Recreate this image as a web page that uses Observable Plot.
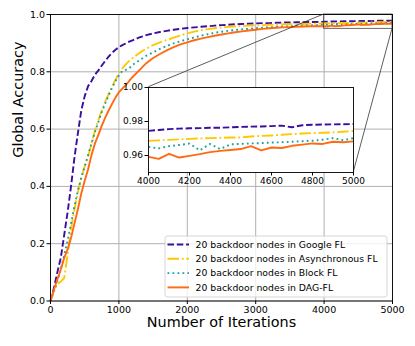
<!DOCTYPE html>
<html><head><meta charset="utf-8">
<script src="https://cdn.jsdelivr.net/npm/d3@7"></script>
<script src="https://cdn.jsdelivr.net/npm/@observablehq/plot@0.6"></script>
<style>
body{margin:0;background:#fff;}
#wrap{position:relative;width:415px;height:346px;font-family:"DejaVu Sans",sans-serif;overflow:hidden;}
#wrap svg{position:absolute;}
</style></head><body><div id="wrap"></div>
<script>
const iterations = [0,50,100,150,200,250,300,350,400,450,500,550,600,650,700,750,800,850,900,950,1000,1050,1100,1150,1200,
 1300,1400,1500,1600,1700,1800,1900,2000,2100,2200,2300,2400,2500,2600,2700,2800,2900,3000,3100,3200,3300,3400,3500,3600,3700,3800,3900,
 4000,4050,4100,4150,4200,4250,4300,4350,4400,4450,4500,4550,4600,4650,4700,4750,4800,4850,4900,4950,5000];
const googleFL = [0,0.045,0.10,0.15,0.23,0.31,0.40,0.50,0.585,0.665,0.715,0.75,0.768,0.79,0.805,0.822,0.838,0.853,0.866,0.877,0.886,0.893,0.899,0.905,0.910,
 0.920,0.928,0.934,0.939,0.943,0.947,0.950,0.953,0.955,0.957,0.959,0.961,0.963,0.964,0.966,0.967,0.968,0.969,0.970,0.970,0.971,0.972,0.972,0.973,0.973,0.974,0.974,
 0.9745,0.9750,0.9755,0.9758,0.9760,0.9761,0.9763,0.9763,0.9766,0.9768,0.9770,0.9771,0.9773,0.9776,0.9766,0.9778,0.9781,0.9782,0.9783,0.9784,0.9785];
const asyncFL = [0,0.035,0.058,0.068,0.08,0.16,0.25,0.32,0.38,0.43,0.47,0.505,0.55,0.595,0.632,0.665,0.695,0.722,0.748,0.772,0.795,0.812,0.826,0.838,0.848,
 0.866,0.881,0.893,0.903,0.911,0.919,0.927,0.934,0.940,0.945,0.949,0.952,0.955,0.957,0.959,0.960,0.961,0.962,0.963,0.964,0.965,0.966,0.966,0.967,0.967,0.968,0.968,
 0.9686,0.9689,0.9692,0.9695,0.9698,0.9700,0.9702,0.9704,0.9706,0.9706,0.9712,0.9715,0.9718,0.9722,0.9726,0.9729,0.9732,0.9734,0.9736,0.9740,0.9744];
const blockFL = [0,0.035,0.07,0.11,0.16,0.21,0.27,0.33,0.385,0.43,0.47,0.51,0.55,0.59,0.625,0.66,0.69,0.718,0.744,0.768,0.787,0.803,0.807,0.812,0.824,
 0.840,0.856,0.868,0.880,0.890,0.899,0.907,0.913,0.920,0.926,0.931,0.936,0.940,0.943,0.946,0.948,0.950,0.952,0.954,0.955,0.957,0.958,0.959,0.960,0.961,0.962,0.963,
 0.9651,0.9642,0.9655,0.9662,0.9670,0.9630,0.9668,0.9638,0.9666,0.9668,0.9671,0.9673,0.9676,0.9678,0.9681,0.9684,0.9687,0.9693,0.9702,0.9690,0.9702];
const dagFL = [0,0.04,0.075,0.11,0.15,0.18,0.22,0.27,0.32,0.375,0.42,0.46,0.51,0.55,0.58,0.612,0.64,0.665,0.688,0.71,0.729,0.741,0.753,0.768,0.782,
 0.806,0.830,0.848,0.862,0.875,0.886,0.896,0.903,0.910,0.916,0.921,0.926,0.930,0.934,0.938,0.941,0.944,0.947,0.950,0.952,0.954,0.955,0.956,0.957,0.958,0.959,0.9595,
 0.9592,0.9580,0.9610,0.9588,0.9598,0.9608,0.9620,0.9627,0.9632,0.9638,0.9655,0.9630,0.9647,0.9644,0.9657,0.9664,0.9671,0.9668,0.9681,0.9678,0.9683];

const seriesNames = ["20 backdoor nodes in Google FL","20 backdoor nodes in Asynchronous FL","20 backdoor nodes in Block FL","20 backdoor nodes in DAG-FL"];
const seriesValues = [googleFL, asyncFL, blockFL, dagFL];
const seriesColors = ["#3a0f9e","#ffc800","#17a0a0","#ff6a13"];
const seriesDash = ["6.5,2.8","11.5,2.8,1.8,2.8","1.8,3.2",null];

const xTicks = [0,1000,2000,3000,4000,5000];
const yTicks = [0,0.2,0.4,0.6,0.8,1.0];
const zoomX = [4000,5000];
const zoomY = [0.95,1.0];
const insetXTicks = [4000,4200,4400,4600,4800,5000];
const insetYTicks = [0.96,0.98,1.00];
const xLabel = "Number of Iterations";
const yLabel = "Global Accuracy";

const series = seriesNames.map((name,k)=>iterations.map((x,i)=>({x, y: seriesValues[k][i], s: name})));

const W = 415, H = 346;
const wrap = document.getElementById("wrap");

function lineMarks(dataFn){
  return series.map((rows,k)=>Plot.line(dataFn(rows),{x:"x",y:"y",stroke:seriesColors[k],strokeWidth:1.9,
    strokeDasharray:seriesDash[k]||undefined,strokeLinecap:"butt",strokeLinejoin:"round"}));
}

const main = Plot.plot({
  width: W, height: H,
  marginLeft: 50, marginRight: 23, marginTop: 14, marginBottom: 45.5,
  style: {fontFamily:"DejaVu Sans", fontSize:"9.5px", color:"#000", background:"white"},
  x: {domain:[0,5000]},
  y: {domain:[0,1]},
  marks: [
    Plot.gridX(xTicks,{stroke:"#b0b0b0",strokeOpacity:1,strokeWidth:1}),
    Plot.gridY(yTicks,{stroke:"#b0b0b0",strokeOpacity:1,strokeWidth:1}),
    ...lineMarks(r=>r),
    Plot.rect([{x1:zoomX[0],x2:zoomX[1],y1:zoomY[0],y2:zoomY[1]}],{x1:"x1",x2:"x2",y1:"y1",y2:"y2",fill:"none",stroke:"#444",strokeWidth:0.8}),
    Plot.frame({stroke:"#000",strokeWidth:0.9}),
    Plot.axisX({ticks:xTicks,tickSize:3.5,tickPadding:2,tickFormat:d=>String(d),label:null}),
    Plot.axisY({ticks:yTicks,tickSize:3.5,tickPadding:2,tickFormat:d3.format(".1f"),label:null}),
    Plot.text([xLabel],{frameAnchor:"bottom",dy:26,fontSize:14.4,text:d=>d}),
    Plot.text([yLabel],{frameAnchor:"left",dx:-32,rotate:-90,fontSize:14.4,text:d=>d})
  ]
});
main.style.left="0px"; main.style.top="0px";
wrap.appendChild(main);

// inset
const inFrame = {left:148.3, top:86.7, right:353.3, bottom:171.7};
const iml=32, imr=6, imt=6, imb=18;
const inset = Plot.plot({
  width: (inFrame.right-inFrame.left)+iml+imr,
  height: (inFrame.bottom-inFrame.top)+imt+imb,
  marginLeft: iml, marginRight: imr, marginTop: imt, marginBottom: imb,
  style: {fontFamily:"DejaVu Sans", fontSize:"9px", color:"#000", background:"transparent", overflow:"visible"},
  x: {domain: zoomX},
  y: {domain: zoomY},
  marks: [
    Plot.frame({fill:"white",stroke:"none"}),
    ...lineMarks(r=>r.filter(d=>d.x>=zoomX[0])),
    Plot.frame({stroke:"#000",strokeWidth:0.9}),
    Plot.axisX({ticks:insetXTicks,tickSize:3.5,tickPadding:2,tickFormat:d=>String(d),label:null}),
    Plot.axisY({ticks:insetYTicks,tickSize:3.5,tickPadding:2,tickFormat:d3.format(".2f"),label:null})
  ]
});
inset.style.left=(inFrame.left-iml)+"px"; inset.style.top=(inFrame.top-imt)+"px";

// connector lines (from main zoom box corners to inset frame corners)
const sx = main.scale("x"), sy = main.scale("y");
const ix = inset.scale("x"), iy = inset.scale("y");
const offX = inFrame.left-iml, offY = inFrame.top-imt;
const conn = d3.create("svg").attr("width",W).attr("height",H).style("left","0px").style("top","0px");
[[zoomX[0],zoomY[1]],[zoomX[1],zoomY[0]]].forEach(([a,b])=>{
  conn.append("line")
    .attr("x1",sx.apply(a)).attr("y1",sy.apply(b))
    .attr("x2",ix.apply(a)+offX).attr("y2",iy.apply(b)+offY)
    .attr("stroke","#333").attr("stroke-width",0.8);
});
wrap.appendChild(conn.node());
wrap.appendChild(inset);

// legend
const leg = d3.create("svg").attr("width",W).attr("height",H).style("left","0px").style("top","0px")
  .style("font-family","DejaVu Sans");
const LX=165, LY=236, LW=222, LH=61;
leg.append("rect").attr("x",LX).attr("y",LY).attr("width",LW).attr("height",LH).attr("rx",2.5)
  .attr("fill","white").attr("fill-opacity",0.8).attr("stroke","#cccccc").attr("stroke-width",0.8);
seriesNames.forEach((name,k)=>{
  const cy = LY+8.5+k*14.3;
  leg.append("line").attr("x1",LX+2.5).attr("x2",LX+24).attr("y1",cy).attr("y2",cy)
    .attr("stroke",seriesColors[k]).attr("stroke-width",1.9)
    .attr("stroke-dasharray",seriesDash[k]||null);
  leg.append("text").attr("x",LX+30.5).attr("y",cy).attr("dy","0.35em")
    .attr("font-size","9.3px").attr("fill","#000").text(name);
});
wrap.appendChild(leg.node());
</script></body></html>
